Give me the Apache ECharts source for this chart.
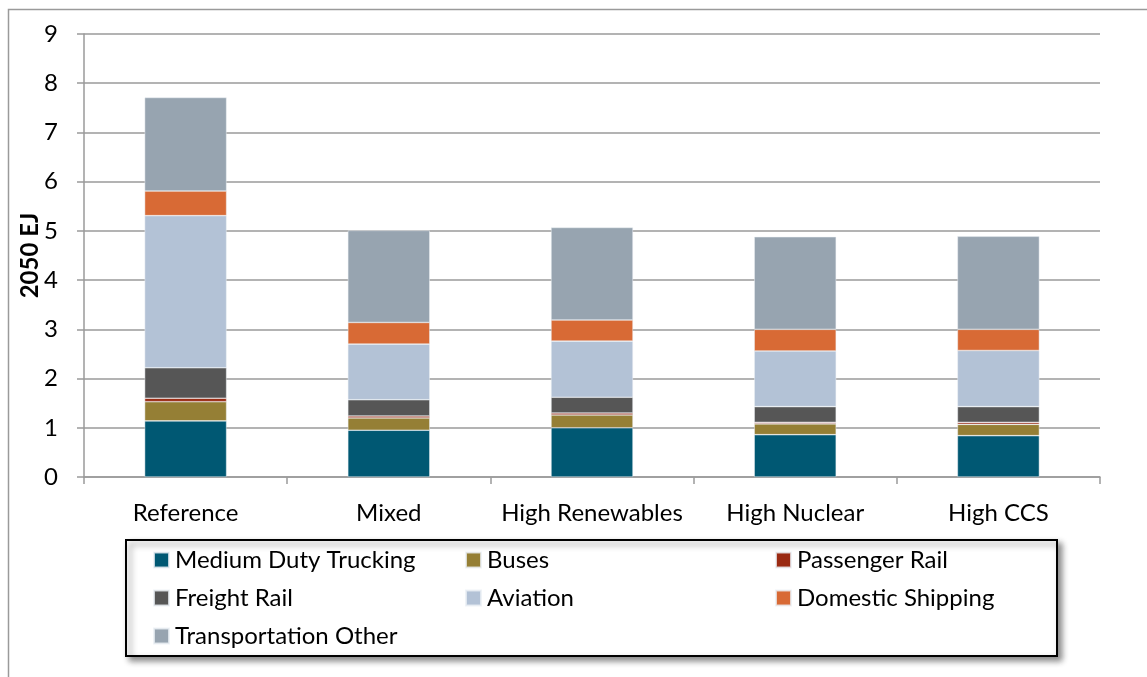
<!DOCTYPE html>
<html>
<head>
<meta charset="utf-8">
<script src="https://cdn.jsdelivr.net/npm/echarts@6/dist/echarts.min.js"></script>
<style>
html,body{margin:0;padding:0;background:#fff;}
#chart{width:1147px;height:677px;}
</style>
</head>
<body>
<div id="chart"></div>
<script>
const categories = ['Reference', 'Mixed', 'High Renewables', 'High Nuclear', 'High CCS'];
const yTicks = [0, 1, 2, 3, 4, 5, 6, 7, 8, 9];
const mediumDutyTrucking   = [1.14, 0.95, 1.00, 0.86, 0.84];
const buses                = [0.39, 0.25, 0.26, 0.22, 0.23];
const passengerRail        = [0.07, 0.04, 0.04, 0.03, 0.04];
const freightRail          = [0.62, 0.33, 0.32, 0.32, 0.32];
const aviation             = [3.09, 1.13, 1.14, 1.13, 1.14];
const domesticShipping     = [0.50, 0.44, 0.43, 0.44, 0.43];
const transportationOther  = [1.90, 1.87, 1.88, 1.88, 1.89];

const seriesNames = ['Medium Duty Trucking','Buses','Passenger Rail','Freight Rail','Aviation','Domestic Shipping','Transportation Other'];
const seriesData = [mediumDutyTrucking, buses, passengerRail, freightRail, aviation, domesticShipping, transportationOther];
const colors = ['#005873','#957F35','#9A2A12','#565656','#B3C2D6','#D86A35','#97A4B0'];

const FONT = 'Lato';
const chart = echarts.init(document.getElementById('chart'), null, {renderer:'canvas'});

const legendCommon = {
  orient: 'vertical',
  icon: 'rect',
  itemWidth: 15,
  itemHeight: 15,
  itemGap: 14,
  padding: 0,
  selectedMode: false,
  textStyle: {fontFamily: FONT, fontSize: 24, color: '#000', lineHeight: 24, padding: [0,0,0,1]}
};

chart.setOption({
  animation: false,
  color: colors,
  textStyle: {fontFamily: FONT},
  grid: {left: 84, right: 47, top: 34, bottom: 200, containLabel: false},
  xAxis: {
    type: 'category',
    data: categories,
    axisLine: {lineStyle: {color: '#9a9a9a', width: 1.5}},
    axisTick: {show: true, length: 7, lineStyle: {color: '#9a9a9a', width: 1.5}},
    axisLabel: {interval: 0, fontFamily: FONT, fontSize: 24, color: '#000', margin: 24}
  },
  yAxis: {
    type: 'value',
    min: 0, max: 9, interval: 1,
    name: '2050 EJ',
    nameLocation: 'middle',
    nameRotate: 90,
    nameGap: 42,
    nameMoveOverlap: false,
    nameTextStyle: {fontFamily: FONT, fontSize: 24, fontWeight: 'bold', color: '#000'},
    axisLine: {show: true, lineStyle: {color: '#9a9a9a', width: 1.5}},
    axisTick: {show: true, length: 7, lineStyle: {color: '#9a9a9a', width: 1.5}},
    axisLabel: {fontFamily: FONT, fontSize: 24, color: '#000', margin: 26,
      formatter: v => yTicks.includes(v) ? String(v) : ''},
    splitLine: {show: true, lineStyle: {color: '#9a9a9a', width: 1.5}}
  },
  legend: [
    Object.assign({}, legendCommon, {left: 153, top: 548, data: ['Medium Duty Trucking','Freight Rail','Transportation Other']}),
    Object.assign({}, legendCommon, {left: 465, top: 548, data: ['Buses','Aviation']}),
    Object.assign({}, legendCommon, {left: 775, top: 548, data: ['Passenger Rail','Domestic Shipping']})
  ],
  graphic: [
    {type: 'rect', z: -10, shape: {x: 8.5, y: 9.5, width: 1200, height: 700},
     style: {fill: '#fff', stroke: '#9a9a9a', lineWidth: 1.5}},
    {type: 'rect', z: -1, shape: {x: 126, y: 540, width: 931, height: 116},
     style: {fill: '#fff', stroke: '#000', lineWidth: 2,
       shadowBlur: 6, shadowOffsetX: 4, shadowOffsetY: 4, shadowColor: 'rgba(0,0,0,0.45)'}}
  ],
  series: seriesNames.map((n, i) => ({
    name: n,
    type: 'bar',
    stack: 'total',
    barWidth: 82,
    data: seriesData[i],
    itemStyle: {color: colors[i], borderColor: 'rgba(235,240,245,0.8)', borderWidth: 0.6}
  }))
});
</script>
</body>
</html>
